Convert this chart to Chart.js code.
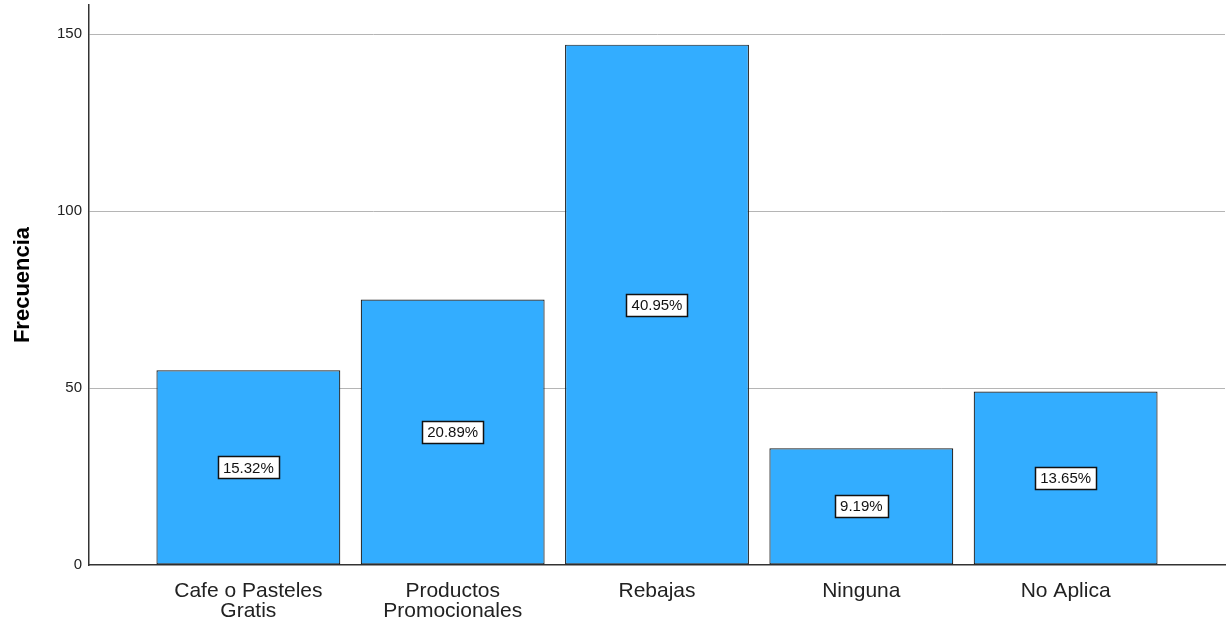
<!DOCTYPE html>
<html>
<head>
<meta charset="utf-8">
<script src="https://cdn.jsdelivr.net/npm/chart.js@4/dist/chart.umd.min.js"></script>
<style>
  html, body { margin: 0; padding: 0; background: #fff; }
  canvas { display: block; }
</style>
</head>
<body>
<canvas id="ofertasChart" width="1228" height="627"></canvas>
<script>
// frecuencias por tipo de oferta
const categorias = [
  ['Cafe o Pasteles', 'Gratis'],
  ['Productos', 'Promocionales'],
  ['Rebajas'],
  ['Ninguna'],
  ['No Aplica']
];
const frecuencias = [55, 75, 147, 33, 49];
const porcentajes = ['15.32%', '20.89%', '40.95%', '9.19%', '13.65%'];
const marcasY = [0, 50, 100, 150];

const FUENTE = '"Liberation Sans", Arial, sans-serif';

// etiqueta de porcentaje en caja blanca al centro de cada barra
const etiquetasPct = {
  id: 'etiquetasPct',
  afterDatasetsDraw(chart) {
    const ctx = chart.ctx;
    const meta = chart.getDatasetMeta(0);
    ctx.save();
    ctx.font = '15px ' + FUENTE;
    ctx.textAlign = 'center';
    ctx.textBaseline = 'middle';
    meta.data.forEach((bar, i) => {
      const txt = porcentajes[i];
      const cy = (bar.y + bar.base) / 2;
      const w = Math.round(ctx.measureText(txt).width + 10);
      const h = 22;
      const x0 = Math.round(bar.x - w / 2) + 0.5;
      const y0 = Math.round(cy - h / 2) + 0.5;
      ctx.fillStyle = '#fff';
      ctx.fillRect(x0, y0, w, h);
      ctx.strokeStyle = '#111';
      ctx.lineWidth = 1.5;
      ctx.strokeRect(x0, y0, w, h);
      ctx.fillStyle = '#111';
      ctx.fillText(txt, bar.x, cy + 1);
    });
    ctx.restore();
  }
};

const data = {
  datasets: [{
    data: frecuencias.map((v, i) => ({ x: i + 1, y: v })),
    backgroundColor: '#33adff',
    borderColor: '#1e1e1e',
    borderWidth: 1.2,
    borderSkipped: false,
    barPercentage: 0.9,
    categoryPercentage: 1
  }]
};

const options = {
  responsive: false,
  animation: false,
  layout: { padding: { top: 5, right: 3, left: 0, bottom: 0 } },
  plugins: {
    legend: { display: false },
    tooltip: { enabled: false }
  },
  scales: {
    x: {
      type: 'linear',
      offset: false,
      min: 0.22,
      max: 5.78,
      afterBuildTicks: (scale) => {
        scale.ticks = categorias.map((c, i) => ({ value: i + 1 }));
      },
      afterFit: (scale) => {
        scale.height = 62;
        scale.paddingLeft = 0;
        scale.paddingRight = 0;
      },
      grid: { display: false, drawTicks: false },
      border: { display: true, color: '#333', width: 1.5 },
      ticks: {
        padding: 16,
        maxRotation: 0,
        autoSkip: false,
        color: '#222',
        font: { family: FUENTE, size: 21, lineHeight: 0.95 },
        callback: (v) => categorias[v - 1]
      }
    },
    y: {
      min: 0,
      max: 158.2,
      afterBuildTicks: (scale) => {
        scale.ticks = marcasY.map(v => ({ value: v }));
      },
      afterFit: (scale) => {
        scale.width = 89;
        scale.paddingTop = 0;
        scale.paddingBottom = 0;
      },
      grid: {
        drawTicks: false,
        color: (c) => c.tick && c.tick.value === 0 ? 'rgba(0,0,0,0)' : '#b5b5b5',
        lineWidth: 1
      },
      border: { display: true, color: '#333', width: 1.5 },
      ticks: {
        padding: 7,
        color: '#222',
        font: { family: FUENTE, size: 15 }
      },
      title: {
        display: true,
        text: 'Frecuencia',
        color: '#000',
        padding: { top: 10, bottom: 0 },
        font: { family: FUENTE, size: 22, weight: 'bold' }
      }
    }
  }
};

new Chart(document.getElementById('ofertasChart'), {
  type: 'bar',
  data,
  options,
  plugins: [etiquetasPct]
});
</script>
</body>
</html>
